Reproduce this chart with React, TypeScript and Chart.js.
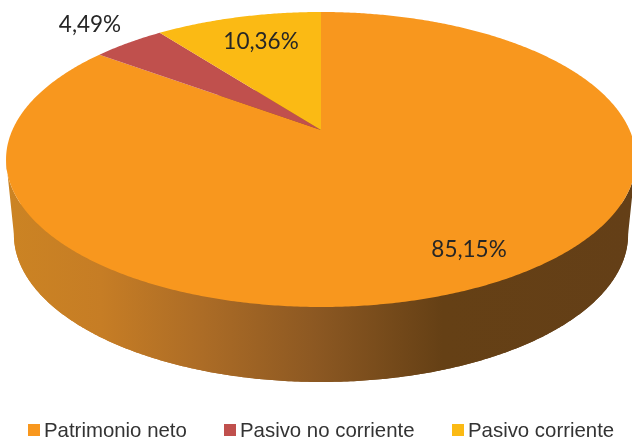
import React, { useEffect, useRef } from "react";
import { Chart, registerables } from "chart.js";

Chart.register(...registerables);

const categories = ["Patrimonio neto", "Pasivo no corriente", "Pasivo corriente"];
const shares = [85.15, 4.49, 10.36];
const sliceColors = ["#F8971E", "#C0504D", "#FBBA14"];
const labelPositions = [
  [469, 250],
  [90, 25],
  [261, 42],
];
const legendBoxX = [28, 224, 452];
const wallStops: [number, string][] = [
  [0, "#CC8423"],
  [0.16, "#C67D25"],
  [0.32, "#AC6C26"],
  [0.5, "#8C5822"],
  [0.7, "#654015"],
  [1, "#643F17"],
];

// Perspective view of the pie disc: unit circle to screen.
const VIEW = { x0: 321, y0: 130, rx: 308.6, ry: 141.6, p: 0.2 };
const BASE = { dy: 75, sx: 0.975 };

function project(a: number, dy = 0, sx = 1): [number, number] {
  const u = Math.cos(a);
  const v = Math.sin(a);
  const w = 1 - VIEW.p * v;
  return [VIEW.x0 + (VIEW.rx * u * sx) / w, VIEW.y0 + dy + (VIEW.ry * v) / w];
}

const pie3d = {
  id: "pie3d",
  beforeDatasetDraw(chart: any, args: any) {
    const ctx: CanvasRenderingContext2D = chart.ctx;
    const meta = args.meta;

    // Side wall
    const rim = (dy: number, sx: number) => {
      const pts: [number, number][] = [];
      for (let i = 0; i < 720; i++) pts.push(project((i / 720) * 2 * Math.PI, dy, sx));
      return pts;
    };
    const grad = ctx.createLinearGradient(0, 0, 632, 0);
    wallStops.forEach(([o, c]) => grad.addColorStop(o, c));
    ctx.fillStyle = grad;
    const top = rim(0, 1);
    const bottom = rim(BASE.dy, BASE.sx);
    ctx.beginPath();
    bottom.forEach((p, i) => (i ? ctx.lineTo(p[0], p[1]) : ctx.moveTo(p[0], p[1])));
    ctx.closePath();
    ctx.fill();
    const extreme = (pts: [number, number][], sign: number) =>
      pts.reduce((best, p, i) => (sign * p[0] > sign * pts[best][0] ? i : best), 0);
    const iR = extreme(top, 1);
    const iL = extreme(top, -1);
    const jR = extreme(bottom, 1);
    const jL = extreme(bottom, -1);
    ctx.beginPath();
    ctx.moveTo(top[iR][0], top[iR][1]);
    for (let i = iR; ; i = (i + 1) % 720) {
      ctx.lineTo(top[i][0], top[i][1]);
      if (i === iL) break;
    }
    for (let j = jL; ; j = (j + 719) % 720) {
      ctx.lineTo(bottom[j][0], bottom[j][1]);
      if (j === jR) break;
    }
    ctx.closePath();
    ctx.fill();

    // Top face, from the angles the library computed
    meta.data.forEach((arc: any, i: number) => {
      const { startAngle, endAngle } = arc.getProps(["startAngle", "endAngle"], true);
      ctx.beginPath();
      ctx.moveTo(VIEW.x0, VIEW.y0);
      const n = Math.ceil((endAngle - startAngle) * 120);
      for (let k = 0; k <= n; k++) {
        const p = project(startAngle + ((endAngle - startAngle) * k) / n);
        ctx.lineTo(p[0], p[1]);
      }
      ctx.closePath();
      ctx.fillStyle = sliceColors[i];
      ctx.fill();
    });
    return false;
  },
  afterDraw(chart: any) {
    const ctx: CanvasRenderingContext2D = chart.ctx;
    ctx.save();
    // Data labels
    ctx.font = '22.5px Lato, "Open Sans", sans-serif';
    ctx.fillStyle = "#262626";
    ctx.textAlign = "center";
    ctx.textBaseline = "middle";
    shares.forEach((v, i) => {
      ctx.fillText(v.toFixed(2).replace(".", ",") + "%", labelPositions[i][0], labelPositions[i][1]);
    });
    // Legend
    ctx.font = '20.4px "Liberation Sans", Arial, sans-serif';
    ctx.textAlign = "left";
    ctx.textBaseline = "alphabetic";
    categories.forEach((c, i) => {
      ctx.fillStyle = sliceColors[i];
      ctx.fillRect(legendBoxX[i], 424, 12, 12);
      ctx.fillStyle = "#333333";
      ctx.fillText(c, legendBoxX[i] + 16, 437);
    });
    ctx.restore();
  },
};

export default function App() {
  const ref = useRef<HTMLCanvasElement>(null);
  useEffect(() => {
    const chart = new Chart(ref.current!, {
      type: "pie",
      data: {
        labels: categories,
        datasets: [{ data: shares, backgroundColor: sliceColors, borderWidth: 0 }],
      },
      options: {
        animation: false,
        responsive: false,
        plugins: { legend: { display: false }, tooltip: { enabled: false } },
      },
      plugins: [pie3d],
    });
    return () => chart.destroy();
  }, []);
  return (
    <canvas
      ref={ref}
      width={632}
      height={439}
      style={{ position: "absolute", left: 0, top: 0, width: 632, height: 439 }}
    />
  );
}
